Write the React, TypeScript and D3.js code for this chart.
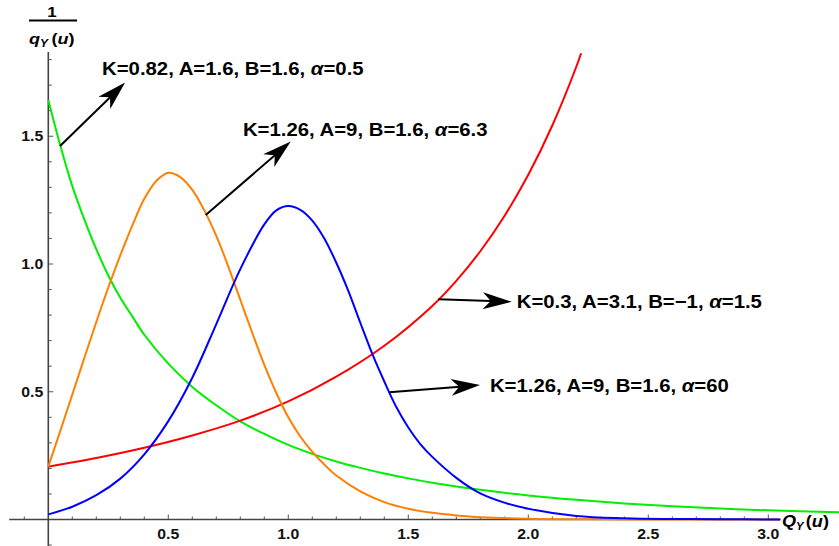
import React from 'react';
import * as d3 from 'd3';

// ---- data ----
const greenPoints: [number, number][] = [
  [0, 1.642], [0.05, 1.464], [0.1, 1.305], [0.15, 1.175], [0.2, 1.058], [0.25, 0.955],
  [0.3, 0.868], [0.35, 0.795], [0.4, 0.723], [0.5, 0.61], [0.6, 0.519], [0.7, 0.447],
  [0.8, 0.384], [0.9, 0.335], [1.0, 0.292], [1.1, 0.257], [1.2, 0.227], [1.3, 0.202],
  [1.4, 0.18], [1.5, 0.161], [1.6, 0.144], [1.8, 0.116], [2.0, 0.094], [2.2, 0.077],
  [2.4, 0.063], [2.6, 0.052], [2.8, 0.043], [3.0, 0.036], [3.3, 0.028],
];
const orangePoints: [number, number][] = [
  [0, 0.207], [0.05, 0.347], [0.1, 0.489], [0.15, 0.632], [0.2, 0.773], [0.25, 0.908],
  [0.3, 1.034], [0.35, 1.15], [0.4, 1.255], [0.45, 1.325], [0.5, 1.357], [0.55, 1.34],
  [0.6, 1.29], [0.65, 1.21], [0.7, 1.11], [0.75, 0.99], [0.8, 0.86], [0.85, 0.73],
  [0.9, 0.605], [0.95, 0.495], [1.0, 0.4], [1.05, 0.325], [1.1, 0.265], [1.15, 0.215],
  [1.2, 0.172], [1.3, 0.11], [1.4, 0.068], [1.5, 0.042], [1.6, 0.026], [1.7, 0.016],
  [1.8, 0.009], [2.0, 0.003], [2.2, 0.001], [2.4, 0], [3.05, 0],
];
const redPoints: [number, number][] = [
  [0, 0.207], [0.2, 0.241], [0.4, 0.281], [0.6, 0.329], [0.8, 0.387], [1.0, 0.462],
  [1.2, 0.559], [1.4, 0.68], [1.6, 0.836], [1.7, 0.934], [1.8, 1.05], [1.9, 1.187],
  [2.0, 1.349], [2.1, 1.542], [2.2, 1.772], [2.22, 1.825],
];
const bluePoints: [number, number][] = [
  [0, 0.02], [0.1, 0.05], [0.2, 0.095], [0.3, 0.16], [0.4, 0.255], [0.5, 0.385],
  [0.6, 0.555], [0.7, 0.765], [0.8, 0.98], [0.9, 1.155], [0.95, 1.21], [1.0, 1.227],
  [1.05, 1.212], [1.1, 1.17], [1.15, 1.1], [1.2, 1.005], [1.25, 0.895], [1.3, 0.77],
  [1.35, 0.648], [1.4, 0.54], [1.45, 0.44], [1.5, 0.36], [1.55, 0.295], [1.6, 0.245],
  [1.7, 0.163], [1.8, 0.102], [1.9, 0.066], [2.0, 0.042], [2.2, 0.014], [2.4, 0.005],
  [2.6, 0.002], [2.8, 0.001], [3.05, 0],
];

const xMajorTicks = [0.5, 1.0, 1.5, 2.0, 2.5, 3.0];
const yMajorTicks = [0.5, 1.0, 1.5];
const xTickLabels = ['0.5', '1.0', '1.5', '2.0', '2.5', '3.0'];
const yTickLabels = ['0.5', '1.0', '1.5'];

const labelTexts = [
  { k: '0.82', a: '1.6', b: '1.6', al: '0.5' },
  { k: '1.26', a: '9', b: '1.6', al: '6.3' },
  { k: '0.3', a: '3.1', b: '\u22121', al: '1.5' },
  { k: '1.26', a: '9', b: '1.6', al: '60' },
];

const W = 839;
const H = 546;
const FONT = "'Liberation Sans', Arial, Helvetica, sans-serif";
const SX = 1.13;

export default function App() {
  const x = d3.scaleLinear().domain([0, 3]).range([48.3, 768.3]);
  const y = d3.scaleLinear().domain([0, 1.5]).range([519.5, 136.25]);

  const line = d3
    .line<[number, number]>()
    .x((d) => x(d[0]))
    .y((d) => y(Math.max(0, d[1])))
    .curve(d3.curveCatmullRom.alpha(0.5));

  const minorX = d3.range(-1, 31).map((i) => i / 10);
  const minorY = d3.range(-1, 19).map((i) => i / 10);

  // annotation geometry in data units
  const arrows = [
    { from: [0.049, 1.462], to: [0.32, 1.71], lab: [0.224, 1.74] },
    { from: [0.656, 1.192], to: [1.01, 1.479], lab: [0.811, 1.501] },
    { from: [1.625, 0.862], to: [1.931, 0.852], lab: [1.952, 0.828] },
    { from: [1.421, 0.498], to: [1.799, 0.526], lab: [1.84, 0.499] },
  ];

  const arrowHead = (x1: number, y1: number, x2: number, y2: number) => {
    const L = 29;
    const w = 8.5;
    const notch = 8;
    const dx = x2 - x1;
    const dy = y2 - y1;
    const len = Math.hypot(dx, dy);
    const ux = dx / len;
    const uy = dy / len;
    const px = -uy;
    const py = ux;
    const bx = x2 - ux * L;
    const by = y2 - uy * L;
    const nx = x2 - ux * (L - notch);
    const ny = y2 - uy * (L - notch);
    return `M${x2},${y2} L${bx + px * w},${by + py * w} L${nx},${ny} L${bx - px * w},${by - py * w} Z`;
  };

  const axisColor = '#444';

  return (
    <svg
      width={W}
      height={H}
      style={{ position: 'absolute', left: 0, top: 0, background: '#fff' }}
      fontFamily={FONT}
    >
      <rect x={0} y={0} width={W} height={H} fill="#fff" />

      {/* axes */}
      <line x1={x(-0.163)} x2={x(3.05)} y1={y(0)} y2={y(0)} stroke={axisColor} strokeWidth={1.6} />
      <line x1={x(0)} x2={x(0)} y1={y(-0.105)} y2={y(1.83)} stroke={axisColor} strokeWidth={1.6} />

      {minorX.map((t) => {
        const major = xMajorTicks.some((m) => Math.abs(m - t) < 1e-6);
        if (Math.abs(t) < 1e-6) return null;
        return (
          <line
            key={'xt' + t}
            x1={x(t)}
            x2={x(t)}
            y1={y(0)}
            y2={y(0) - (major ? 5 : 3)}
            stroke={axisColor}
            strokeWidth={0.9}
          />
        );
      })}
      {minorY.map((t) => {
        const major = yMajorTicks.some((m) => Math.abs(m - t) < 1e-6);
        if (Math.abs(t) < 1e-6) return null;
        return (
          <line
            key={'yt' + t}
            x1={x(0)}
            x2={x(0) + (major ? 5 : 3.5)}
            y1={y(t)}
            y2={y(t)}
            stroke={axisColor}
            strokeWidth={0.9}
          />
        );
      })}

      {xMajorTicks.map((t, i) => (
        <text
          key={'xl' + t}
          transform={`translate(${x(t)},${y(0) + 19.5}) scale(${SX},1)`}
          textAnchor="middle"
          fontSize={14}
          fontWeight="bold"
          fill="#111"
        >
          {xTickLabels[i]}
        </text>
      ))}
      {yMajorTicks.map((t, i) => (
        <text
          key={'yl' + t}
          transform={`translate(${x(0) - 5},${y(t) + 5}) scale(${SX},1)`}
          textAnchor="end"
          fontSize={14}
          fontWeight="bold"
          fill="#111"
        >
          {yTickLabels[i]}
        </text>
      ))}

      {/* axis labels */}
      <text transform={`translate(52,17) scale(${SX},1)`} textAnchor="middle" fontSize={15} fontWeight="bold">
        1
      </text>
      <line x1={29} x2={77} y1={20.5} y2={20.5} stroke="#000" strokeWidth={2} />
      <text transform={`translate(29,44) scale(1.2,1)`} fontSize={15} fontWeight="bold">
        <tspan fontStyle="italic">q</tspan>
        <tspan fontStyle="italic" fontSize={10} dy={3}>Y</tspan>
        <tspan dy={-3} dx={3}>(</tspan>
        <tspan fontStyle="italic">u</tspan>
        <tspan>)</tspan>
      </text>
      <text transform={`translate(782,527) scale(${SX},1)`} fontSize={16} fontWeight="bold">
        <tspan fontStyle="italic">Q</tspan>
        <tspan fontStyle="italic" fontSize={10} dy={3}>Y</tspan>
        <tspan dy={-3} dx={2}>(</tspan>
        <tspan fontStyle="italic">u</tspan>
        <tspan>)</tspan>
      </text>

      {/* curves */}
      <path d={line(greenPoints) || ''} fill="none" stroke="#00ee00" strokeWidth={2} />
      <path d={line(redPoints) || ''} fill="none" stroke="#ff0000" strokeWidth={2} />
      <path d={line(orangePoints) || ''} fill="none" stroke="#ff8000" strokeWidth={2} />
      <path d={line(bluePoints) || ''} fill="none" stroke="#0000ff" strokeWidth={2} />

      {/* annotations */}
      {arrows.map((a, i) => {
        const x1 = x(a.from[0]);
        const y1 = y(a.from[1]);
        const x2 = x(a.to[0]);
        const y2 = y(a.to[1]);
        const lt = labelTexts[i];
        return (
          <g key={'ann' + i}>
            <line x1={x1} y1={y1} x2={x2 - (x2 - x1) * 0.08} y2={y2 - (y2 - y1) * 0.08} stroke="#000" strokeWidth={2} />
            <path d={arrowHead(x1, y1, x2, y2)} fill="#000" />
            <text
              transform={`translate(${x(a.lab[0])},${y(a.lab[1])}) scale(${SX},1)`}
              fontSize={18}
              fontWeight="bold"
              fill="#000"
            >
              {`K=${lt.k}, A=${lt.a}, B=${lt.b}, `}
              <tspan fontStyle="italic">{'\u03b1'}</tspan>
              {`=${lt.al}`}
            </text>
          </g>
        );
      })}
    </svg>
  );
}
